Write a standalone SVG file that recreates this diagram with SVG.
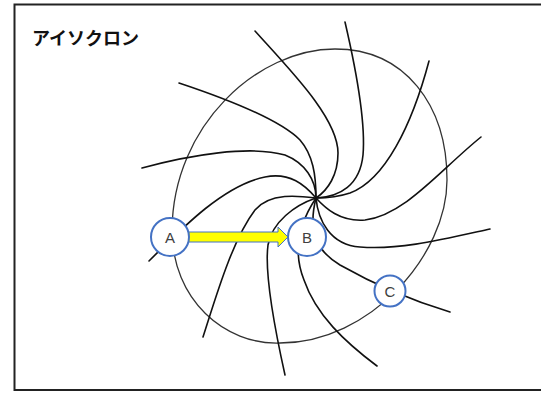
<svg xmlns="http://www.w3.org/2000/svg" width="541" height="394" viewBox="0 0 541 394">
<style>
.frame{fill:#fff;stroke:#222;stroke-width:2}
.iso{fill:none;stroke:#333;stroke-width:1.3}
.sp{fill:none;stroke:#111;stroke-width:1.6;stroke-linecap:round}
.node circle{fill:#fff;stroke:#4472C4;stroke-width:2}
.node text{font-family:"Liberation Sans",Arial,sans-serif;font-size:15px;fill:#404040;text-anchor:middle}
.title{font-family:"Noto Sans CJK JP","Noto Sans",sans-serif;font-size:18px;font-weight:bold;fill:#111}
</style>
<rect class="frame" x="14.5" y="4.5" width="540" height="385.5"/>
<text class="title" x="32" y="45">アイソクロン</text>
<path id="isochrone" class="iso" d="M335,49 C405,49 447,105 447,180 C447,255 370,343 280,343 C225,345 172,300 172,230 C173,125 258,49 335,49 Z"/>
<g id="connectors">
<path class="sp" d="M255,31 C290,70 338,118 338,153 C338,175 328,190 316,198"/>
<path class="sp" d="M345,22 C355,65 366,120 363,155 C360,185 340,197 316,198"/>
<path class="sp" d="M429,61 C412,125 385,180 350,193 C338,197 325,198 316,198"/>
<path class="sp" d="M481,137 C440,170 405,215 365,220 C340,222 325,208 316,198"/>
<path class="sp" d="M490,229 C440,240 400,250 360,247 C330,245 318,220 316,198"/>
<path class="sp" d="M316,198 C308,230 315,250 340,265 C370,282 410,300 450,312"/>
<path class="sp" d="M316,198 C300,222 292,250 304,280 C316,315 345,342 377,366"/>
<path class="sp" d="M285,375 C275,330 264,275 268,245 C272,222 295,205 316,198"/>
<path class="sp" d="M203,337 C215,300 232,240 255,210 C270,192 300,196 316,198"/>
<path class="sp" d="M149,261 C185,225 225,185 265,177 C290,172 305,185 316,198"/>
<path class="sp" d="M142,168 C190,155 250,145 285,155 C305,163 316,180 316,198"/>
<path class="sp" d="M179,83 C230,100 280,120 300,140 C313,155 316,175 316,198"/>
<polygon id="arrow" points="185,232 278,232 278,227 288,237 278,247 278,242 185,242" fill="#FFFF00" stroke="#4472C4" stroke-width="1"/>
</g>
<g id="A" class="node"><circle cx="170" cy="237" r="19"/><text x="170" y="242.5">A</text></g>
<g id="B" class="node"><circle cx="307" cy="237" r="19"/><text x="307" y="242.5">B</text></g>
<g id="C" class="node"><circle cx="390" cy="291" r="15.5"/><text x="390" y="296.5">C</text></g>
</svg>
